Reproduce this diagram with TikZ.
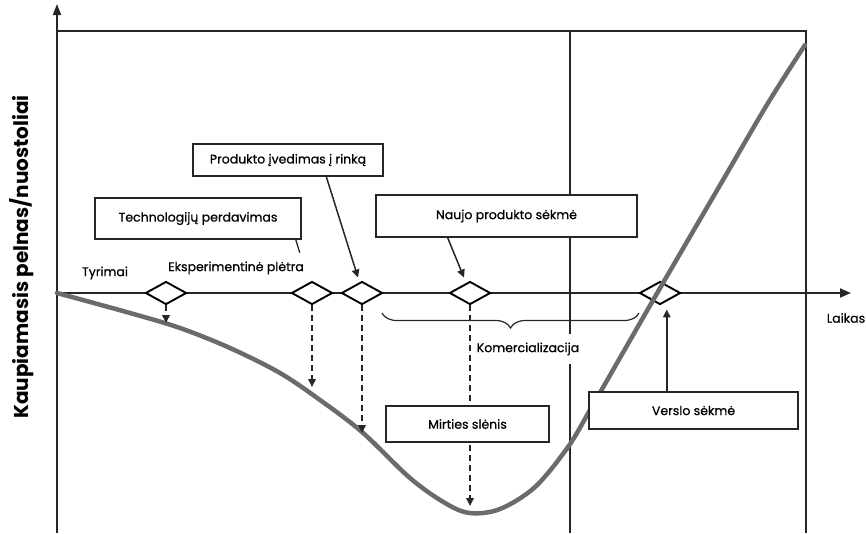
\documentclass[tikz,border=0pt]{standalone}
\usepackage{fontspec}
\setmainfont{Poppins}
\newfontfamily\lblfont{Poppins}[BoldFont={Poppins},BoldFeatures={FakeBold=0.7}]
\usetikzlibrary{shapes.geometric,arrows.meta,decorations.pathreplacing,calc}

\begin{document}
\begin{tikzpicture}[x=1pt,y=-1pt,
  frame/.style={draw=black!85, line width=2pt},
  thinline/.style={draw=black!85, line width=1.3pt},
  milestone/.style={diamond, draw=black, line width=1.9pt, fill=white,
    minimum width=41pt, minimum height=23pt, inner sep=0pt},
  lbl/.style={font=\lblfont\bfseries\fontsize{12.5}{14}\selectfont, text=black, inner sep=0pt},
  callout/.style={draw=black!85, line width=1.6pt, fill=white, lbl},
  tip/.style={-{Triangle[length=8pt,width=7.5pt]}},
  pointer/.style={tip, draw=black!85, line width=1.5pt},
  dropline/.style={tip, draw=black!85, dash pattern=on 6pt off 4pt, line width=1.8pt},
  profit/.style={draw=black!58, line width=4.5pt, line cap=round}
]
\useasboundingbox (0,0) rectangle (866,533);

% axes and frame
\coordinate (ybot) at (57,533);
\coordinate (ytop) at (57,4);
\coordinate (origin) at (57,293);
\coordinate (tend) at (851,293);
\coordinate (ftl) at (57,31);
\coordinate (ftr) at (806,31);
\coordinate (fbr) at (806,533);
\coordinate (mtop) at (570,31);
\coordinate (mbot) at (570,533);

\draw[frame, -{Triangle[length=11pt,width=8pt]}] (ybot) -- (ytop);
\draw[frame] (ftl) -- (ftr) -- (fbr);
\draw[thinline] (mtop) -- (mbot);
\draw[frame, -{Triangle[length=11pt,width=9pt]}] (origin) -- (tend);

\node[font=\bfseries\fontsize{20}{24}\selectfont, rotate=90, inner sep=0pt] (ylab) at (22,257) {Kaupiamasis pelnas/nuostoliai};
\node[lbl, anchor=center] (laikas) at (846,318) {Laikas};

% milestones on the time axis
\node[milestone] (d1) at (166,293) {};
\node[milestone] (d2) at (312,293) {};
\node[milestone] (d3) at (362,293) {};
\node[milestone] (d4) at (470,293) {};
\node[milestone] (d5) at (660,293) {};

\node[lbl] (tyrimai) at (105,273) {Tyrimai};
\node[lbl] (eksp) at (236,268) {Eksperimentinė plėtra};

% cumulative profit curve
\draw[profit] plot[smooth, tension=0.55] coordinates {
  (57,293) (130,313) (180,328) (230,348) (280,373) (320,400) (362,432)
  (410,478) (445,503) (470,513) (500,509) (535,487) (568,447) (590,410)
  (613,370) (663,283) (723,180) (768,103) (805,45)};

% drops from milestones to the curve
\coordinate (e1) at (166,323);
\coordinate (e2) at (312,387);
\coordinate (e3) at (362,433);
\coordinate (e4) at (470,506);
\draw[dropline] (d1.south) -- (e1);
\draw[dropline] (d2.south) -- (e2);
\draw[dropline] (d3.south) -- (e3);
\draw[dropline] (d4.south) -- (e4);

% commercialisation span
\coordinate (bl) at (382,313);
\coordinate (br) at (639,313);
\draw[decorate, decoration={brace, mirror, amplitude=15pt}, draw=black!85, line width=1.2pt] (bl) -- (br);
\node[lbl, fill=white, inner xsep=1pt, inner ysep=9pt] (kom) at (528,349) {Komercializacija};

% callouts
\node[callout, minimum width=206pt, minimum height=41pt] (tech) at (198,218.5) {Technologijų perdavimas};
\node[callout, minimum width=190pt, minimum height=32pt] (prod) at (288,160) {Produkto įvedimas į rinką};
\node[callout, minimum width=261pt, minimum height=42pt] (naujo) at (506.5,216) {Naujo produkto sėkmė};
\node[callout, minimum width=163pt, minimum height=36pt] (mirt) at (467.5,424) {Mirties slėnis};
\node[callout, minimum width=209pt, minimum height=37pt] (versl) at (693.5,410.5) {Verslo sėkmė};

\coordinate (vbase) at ($(versl.north west)!0.373!(versl.north east)$);
\coordinate (vtip) at ($(vbase|-d5.south)+(0,4)$);
\draw[draw=black!85, line width=1.3pt] ($(tech.south east)+(-6,0)$) -- ++(4,13);
\draw[pointer] ($(prod.south west)!0.7!(prod.south east)$) -- ($(d3.north)+(-4,-3)$);
\draw[pointer] ($(naujo.south west)!0.276!(naujo.south east)$) -- ($(d4.north)+(-6,-3)$);
\draw[pointer] (vbase) -- (vtip);
\end{tikzpicture}
\end{document}
